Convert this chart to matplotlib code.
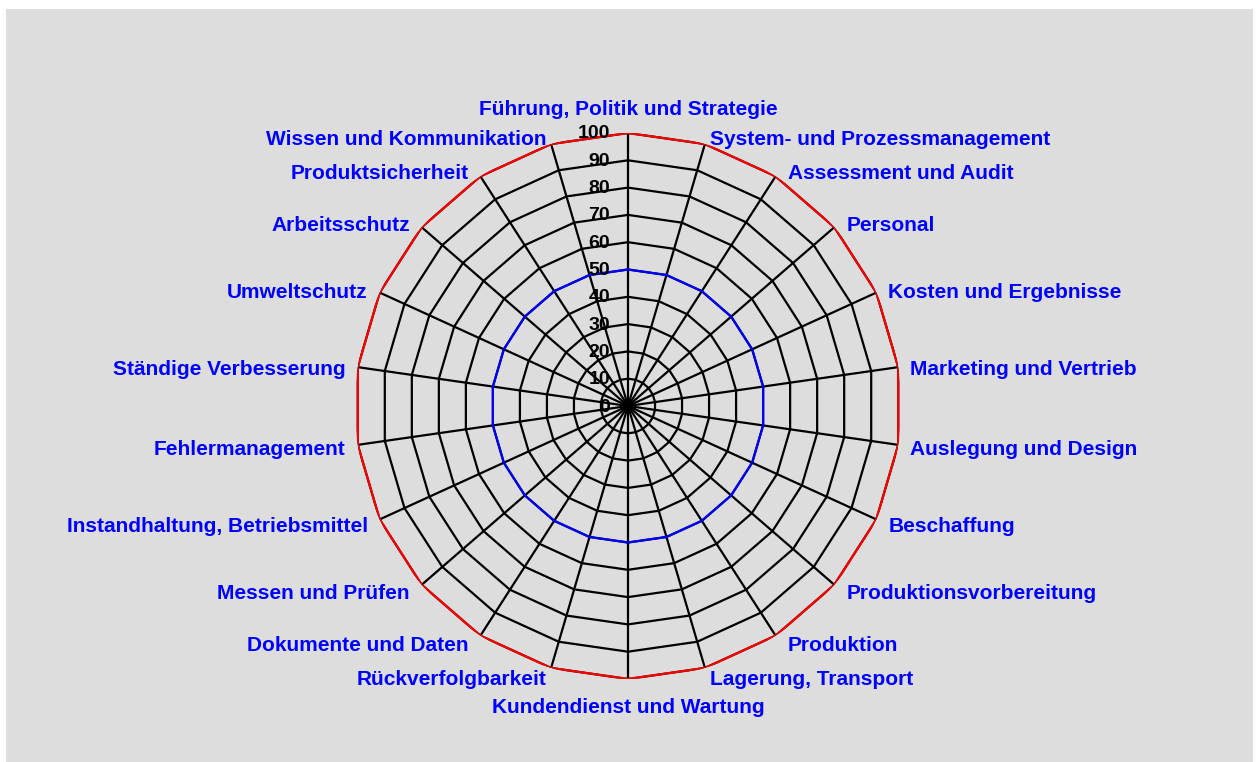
import numpy as np
import matplotlib
matplotlib.use("Agg")
import matplotlib.pyplot as plt
from matplotlib.patches import Rectangle

categories = [
    "Führung, Politik und Strategie", "System- und Prozessmanagement",
    "Assessment und Audit", "Personal", "Kosten und Ergebnisse",
    "Marketing und Vertrieb", "Auslegung und Design", "Beschaffung",
    "Produktionsvorbereitung", "Produktion", "Lagerung, Transport",
    "Kundendienst und Wartung", "Rückverfolgbarkeit", "Dokumente und Daten",
    "Messen und Prüfen", "Instandhaltung, Betriebsmittel", "Fehlermanagement",
    "Ständige Verbesserung", "Umweltschutz", "Arbeitsschutz",
    "Produktsicherheit", "Wissen und Kommunikation",
]
target_values = [100] * 22
actual_values = [50] * 22
r_ticks = [0, 10, 20, 30, 40, 50, 60, 70, 80, 90, 100]

plt.rcParams['font.family'] = ['Liberation Sans', 'DejaVu Sans']

W, H = 1259, 762
fig = plt.figure(figsize=(W / 100, H / 100), dpi=100)
fig.patch.set_facecolor('white')
fig.add_artist(Rectangle((6 / W, 0), (1253 - 6) / W, (H - 9) / H,
                         transform=fig.transFigure, facecolor='#dddddd',
                         edgecolor='none', zorder=0))

cx, cy, R = 628, 406, 273
ax = fig.add_axes([(cx - R) / W, (H - cy - R) / H, 2 * R / W, 2 * R / H],
                  projection='polar')
ax.set_theta_zero_location('N')
ax.set_theta_direction(-1)
ax.set_ylim(0, 100)
ax.patch.set_visible(False)
ax.grid(False)
ax.set_xticks([])
ax.set_yticks([])
ax.spines['polar'].set_visible(False)

n = len(categories)
theta = np.arange(n) * 2 * np.pi / n
theta_c = np.append(theta, theta[0])

lw = 1.6
for rv in r_ticks[1:]:
    ax.plot(theta_c, [rv] * (n + 1), color='black', lw=lw, zorder=2)
for t in theta:
    ax.plot([t, t], [0, r_ticks[-1]], color='black', lw=lw, zorder=2)

ax.plot(theta_c, actual_values + actual_values[:1], color='#0000ff', lw=lw, zorder=3)
ax.plot(theta_c, target_values + target_values[:1], color='#ff0000', lw=lw, zorder=4)

for rv in r_ticks:
    ax.annotate(str(rv), xy=(0, rv), xytext=(-18, -1), textcoords='offset pixels',
                ha='right', va='center', fontsize=14, fontweight='bold',
                color='black', zorder=5, annotation_clip=False)

for t, lab in zip(theta, categories):
    s, c = np.sin(t), np.cos(t)
    if abs(s) < 0.05:
        ha = 'center'
        dx = 0
        if c > 0:
            va, dy = 'bottom', 14
        else:
            va, dy = 'top', -19
    else:
        ha = 'left' if s > 0 else 'right'
        va = 'center'
        mag = 12 if abs(s) > 0.5 else 5
        dx = mag * np.sign(s)
        dy = 8 * c - 3.5
    ax.annotate(lab, xy=(t, target_values[0]), xytext=(dx, dy),
                textcoords='offset pixels', ha=ha, va=va, fontsize=15,
                fontweight='bold', color='#0000ff', annotation_clip=False)

fig.savefig('out.png', dpi=100)
